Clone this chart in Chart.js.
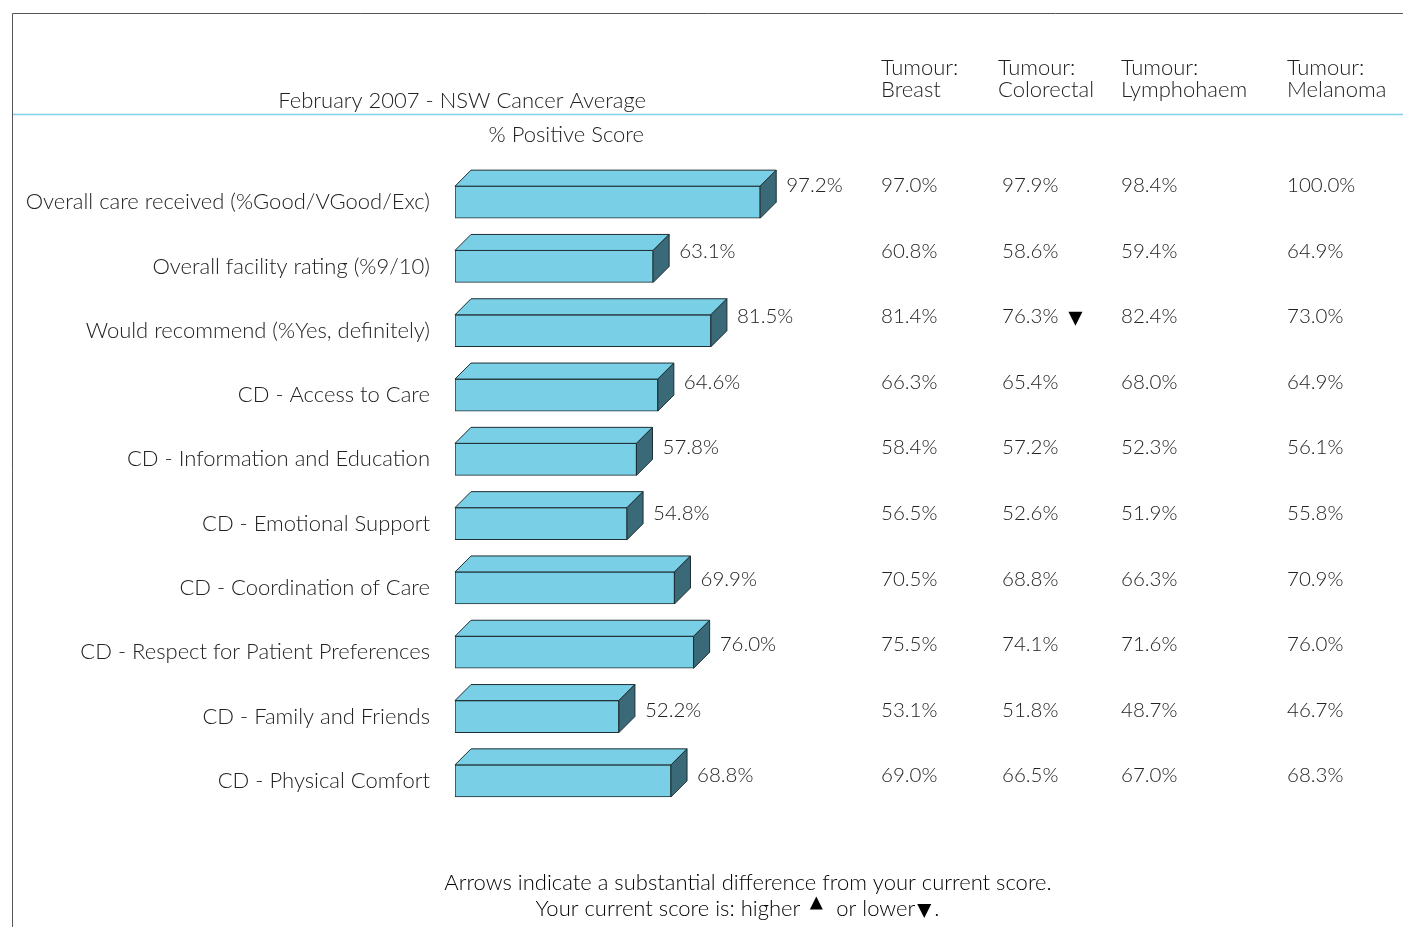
<!DOCTYPE html>
<html>
<head>
<meta charset="utf-8">
<script src="https://cdn.jsdelivr.net/npm/chart.js@4.4.1/dist/chart.umd.min.js"></script>
<style>
  html, body { margin: 0; padding: 0; background: #ffffff; }
  #wrap { width: 1403px; height: 927px; position: relative; }
</style>
</head>
<body>
<div id="wrap"><canvas id="c" width="1403" height="927"></canvas></div>
<script>
// ---- Data ----
const categories = [
  "Overall care received (%Good/VGood/Exc)",
  "Overall facility rating (%9/10)",
  "Would recommend (%Yes, definitely)",
  "CD - Access to Care",
  "CD - Information and Education",
  "CD - Emotional Support",
  "CD - Coordination of Care",
  "CD - Respect for Patient Preferences",
  "CD - Family and Friends",
  "CD - Physical Comfort"
];
const nswAverage = [97.2, 63.1, 81.5, 64.6, 57.8, 54.8, 69.9, 76.0, 52.2, 68.8];
const breast      = [97.0, 60.8, 81.4, 66.3, 58.4, 56.5, 70.5, 75.5, 53.1, 69.0];
const colorectal  = [97.9, 58.6, 76.3, 65.4, 57.2, 52.6, 68.8, 74.1, 51.8, 66.5];
const lymphohaem  = [98.4, 59.4, 82.4, 68.0, 52.3, 51.9, 66.3, 71.6, 48.7, 67.0];
const melanoma    = [100.0, 64.9, 73.0, 64.9, 56.1, 55.8, 70.9, 76.0, 46.7, 68.3];
const tableHeaders = [["Tumour:", "Breast"], ["Tumour:", "Colorectal"], ["Tumour:", "Lymphohaem"], ["Tumour:", "Melanoma"]];
// arrows: [row index, column index, direction]
const arrowMarks = [[2, 1, "down"]];
const titleText = "February 2007 - NSW Cancer Average";
const subtitleText = "% Positive Score";
const footerLine1 = "Arrows indicate a substantial difference from your current score.";

const FONT = "Lato, 'Open Sans', sans-serif";
const TXT = "#222222";
const DEPTH = 16;

function tri(ctx, x, y, s, dir) {
  ctx.beginPath();
  if (dir === "down") {
    ctx.moveTo(x - s / 2, y - s / 2); ctx.lineTo(x + s / 2, y - s / 2); ctx.lineTo(x, y + s / 2);
  } else {
    ctx.moveTo(x - s / 2, y + s / 2); ctx.lineTo(x + s / 2, y + s / 2); ctx.lineTo(x, y - s / 2);
  }
  ctx.closePath();
  ctx.fillStyle = "#000"; ctx.fill();
}

const extrasPlugin = {
  id: "extras",
  beforeDraw(chart) {
    const ctx = chart.ctx;
    ctx.save();
    ctx.strokeStyle = "#555"; ctx.lineWidth = 1;
    ctx.beginPath(); ctx.moveTo(12.5, 927); ctx.lineTo(12.5, 13.5); ctx.lineTo(1403, 13.5); ctx.stroke();
    ctx.strokeStyle = "#7fd3ec"; ctx.lineWidth = 1.5;
    ctx.beginPath(); ctx.moveTo(13, 114.5); ctx.lineTo(1403, 114.5); ctx.stroke();
    ctx.restore();
  },
  afterDatasetsDraw(chart) {
    const ctx = chart.ctx;
    const meta = chart.getDatasetMeta(0);
    ctx.save();
    ctx.lineWidth = 1; ctx.strokeStyle = "#1f2f33"; ctx.lineJoin = "round";
    meta.data.forEach((bar) => {
      const h = bar.height;
      const x0 = bar.base, x1 = bar.x, top = bar.y - h / 2, bot = bar.y + h / 2;
      ctx.beginPath();
      ctx.moveTo(x0, top); ctx.lineTo(x0 + DEPTH, top - DEPTH); ctx.lineTo(x1 + DEPTH, top - DEPTH); ctx.lineTo(x1, top); ctx.closePath();
      ctx.fillStyle = "#78cfe6"; ctx.fill(); ctx.stroke();
      ctx.beginPath();
      ctx.moveTo(x1, top); ctx.lineTo(x1 + DEPTH, top - DEPTH); ctx.lineTo(x1 + DEPTH, bot - DEPTH); ctx.lineTo(x1, bot); ctx.closePath();
      ctx.fillStyle = "#3a6a78"; ctx.fill(); ctx.stroke();
    });
    ctx.restore();
  },
  afterDraw(chart) {
    const ctx = chart.ctx;
    const ys = chart.scales.y;
    const meta = chart.getDatasetMeta(0);
    const p0 = ys.getPixelForValue(0);
    const rowY = (i) => 185.5 + (ys.getPixelForValue(i) - p0) * 1.02;
    ctx.save();
    ctx.fillStyle = TXT;
    ctx.textBaseline = "middle";
    ctx.font = "300 22px " + FONT;
    ctx.textAlign = "right";
    ctx.fillText(titleText, 646, 101);
    ctx.fillText(subtitleText, 644, 135);
    const colX = [881, 998, 1121, 1287];
    ctx.textAlign = "left";
    tableHeaders.forEach((hd, j) => {
      ctx.fillText(hd[0], colX[j], 68);
      ctx.fillText(hd[1], colX[j], 90);
    });
    // numbers
    ctx.font = "300 20.5px " + FONT;
    meta.data.forEach((bar, i) => {
      ctx.fillText(nswAverage[i].toFixed(1) + "%", bar.x + DEPTH + 10, rowY(i));
    });
    const cols = [breast, colorectal, lymphohaem, melanoma];
    const valX = [881, 1002, 1121, 1287];
    cols.forEach((col, j) => {
      col.forEach((v, i) => {
        ctx.fillText(v.toFixed(1) + "%", valX[j], rowY(i));
      });
    });
    arrowMarks.forEach(([r, c, d]) => {
      const w = ctx.measureText(cols[c][r].toFixed(1) + "%").width;
      tri(ctx, valX[c] + w + 17, rowY(r) + 2, 14, d);
    });
    // footer
    ctx.font = "300 22px " + FONT;
    ctx.textAlign = "center";
    ctx.fillText(footerLine1, 748, 883);
    ctx.textAlign = "left";
    const a = "Your current score is: higher";
    const b = "or lower";
    const wa = ctx.measureText(a).width, wb = ctx.measureText(b).width, wd = ctx.measureText(".").width;
    const total = wa + 36 + wb + 20 + wd;
    let x = 738 - total / 2;
    ctx.fillText(a, x, 909);
    x += wa;
    tri(ctx, x + 16, 903, 13, "up");
    x += 36;
    ctx.fillText(b, x, 909);
    x += wb;
    tri(ctx, x + 9, 911, 14, "down");
    ctx.fillText(".", x + 19, 909);
    ctx.restore();
  }
};

new Chart(document.getElementById("c"), {
  type: "bar",
  data: {
    labels: categories,
    datasets: [{
      data: nswAverage,
      backgroundColor: "#78cfe6",
      borderColor: "#1f2f33",
      borderWidth: 1,
      borderSkipped: false,
      barThickness: 32
    }]
  },
  options: {
    indexAxis: "y",
    responsive: false,
    devicePixelRatio: 1,
    animation: false,
    layout: { padding: { top: 170, bottom: 114, right: 634, left: 0 } },
    plugins: { legend: { display: false }, tooltip: { enabled: false } },
    scales: {
      x: { display: false, min: 0, max: 100 },
      y: {
        grid: { display: false, drawTicks: false },
        border: { display: false },
        afterFit(scale) { scale.width = 455; },
        ticks: {
          padding: 25,
          color: TXT,
          font: { family: FONT, size: 22, weight: "300" }
        }
      }
    }
  },
  plugins: [extrasPlugin]
});
</script>
</body>
</html>
